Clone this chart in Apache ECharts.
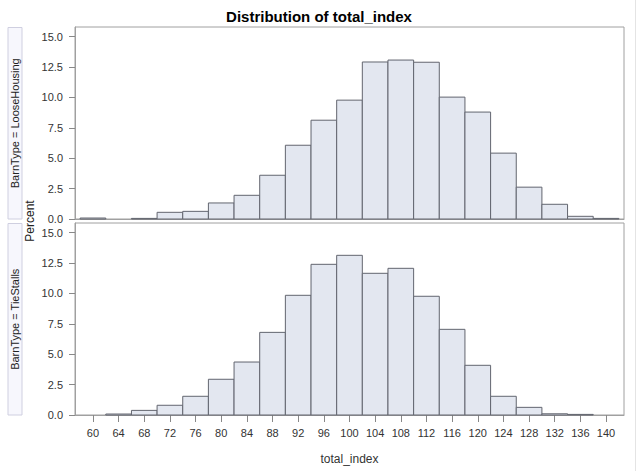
<!DOCTYPE html>
<html>
<head>
<meta charset="utf-8">
<script src="https://cdn.jsdelivr.net/npm/echarts@6/dist/echarts.min.js"></script>
<style>
html,body{margin:0;padding:0;background:#fff;}
#chart{width:638px;height:471px;}
</style>
</head>
<body>
<div id="chart"></div>
<script>
// Bin midpoints (total_index)
const bins = [60,64,68,72,76,80,84,88,92,96,100,104,108,112,116,120,124,128,132,136,140];
// Percent per bin, BarnType = LooseHousing
const looseHousing = [0.08,0,0.05,0.55,0.63,1.32,1.95,3.6,6.07,8.13,9.78,12.92,13.08,12.9,10.03,8.8,5.42,2.62,1.21,0.22,0.05];
// Percent per bin, BarnType = TieStalls
const tieStalls = [0,0.08,0.38,0.8,1.54,2.94,4.36,6.8,9.85,12.4,13.14,11.66,12.07,9.77,7.05,4.09,1.54,0.63,0.1,0.05,0];
// Tick labels
const xTicks = [60,64,68,72,76,80,84,88,92,96,100,104,108,112,116,120,124,128,132,136,140];
const yTicks = [0,2.5,5,7.5,10,12.5,15];
const panelLabels = ['BarnType = LooseHousing','BarnType = TieStalls'];
const binWidth = 4;

const FONT = '"Liberation Sans", Arial, sans-serif';
const chart = echarts.init(document.getElementById('chart'), null, {renderer:'svg'});

function histData(vals){
  return bins.map((b,i)=>[b, vals[i]]);
}
function renderBar(params, api){
  const x = api.value(0), v = api.value(1);
  if (!v) return null;
  const p0 = api.coord([x - binWidth/2, v]);
  const p1 = api.coord([x + binWidth/2, 0]);
  return {
    type:'rect',
    shape:{x:p0[0], y:p0[1], width:p1[0]-p0[0], height:p1[1]-p0[1]},
    style:{fill:'#e3e7f0', stroke:'#62656f', lineWidth:1}
  };
}
const grids = [
  {left:75, top:27, width:549, height:192, show:true, borderColor:'#a0a0a0', borderWidth:1, backgroundColor:'#fff'},
  {left:75, top:223, width:549, height:192, show:true, borderColor:'#a0a0a0', borderWidth:1, backgroundColor:'#fff'}
];
function xAxis(idx, showLabels){
  return {
    type:'value', gridIndex:idx, min:57.2, max:142.8,
    axisLine:{show:true, lineStyle:{color:'#a0a0a0'}},
    axisTick:{show:showLabels, length:7, lineStyle:{color:'#888'}, customValues:xTicks},
    axisLabel:{show:showLabels, customValues:xTicks, color:'#333', fontSize:11, fontFamily:FONT, margin:12},
    splitLine:{show:false},
    name: showLabels ? 'total_index' : '',
    nameLocation:'middle', nameGap:38,
    nameTextStyle:{color:'#333', fontSize:12, fontFamily:FONT}
  };
}
function yAxis(idx){
  return {
    type:'value', gridIndex:idx, min:0, max:15.8,
    axisLine:{show:true, lineStyle:{color:'#a0a0a0'}},
    axisTick:{show:true, length:6, lineStyle:{color:'#888'}, customValues:yTicks},
    axisLabel:{customValues:yTicks, color:'#333', fontSize:11, fontFamily:FONT, margin:12,
      formatter:(v)=>Number(v).toFixed(1)},
    splitLine:{show:false}
  };
}
function strip(top, height, label){
  return [
    {type:'rect', shape:{x:8, y:top, width:14, height:height},
     style:{fill:'#f7f7fd', stroke:'#cfcfe0', lineWidth:1}, silent:true},
    {type:'text', x:15, y:top+height/2, rotation:Math.PI/2,
     style:{text:label, fill:'#222', font:'11px '+FONT, align:'center', verticalAlign:'middle'}, silent:true}
  ];
}
chart.setOption({
  animation:false,
  title:{text:'Distribution of total_index', left:'center', top:4,
    textStyle:{fontSize:15, fontWeight:'bold', color:'#000', fontFamily:FONT}},
  grid:grids,
  xAxis:[xAxis(0,false), xAxis(1,true)],
  yAxis:[yAxis(0), yAxis(1)],
  series:[
    {type:'custom', xAxisIndex:0, yAxisIndex:0, data:histData(looseHousing), renderItem:renderBar, encode:{x:0,y:1}},
    {type:'custom', xAxisIndex:1, yAxisIndex:1, data:histData(tieStalls), renderItem:renderBar, encode:{x:0,y:1}}
  ],
  graphic:[
    ...strip(27.5, 191.5, panelLabels[0]),
    ...strip(223.5, 191.5, panelLabels[1]),
    {type:'text', x:30, y:221, rotation:Math.PI/2,
     style:{text:'Percent', fill:'#222', font:'12px '+FONT, align:'center', verticalAlign:'middle'}, silent:true},
    {type:'line', shape:{x1:635.5, y1:0, x2:635.5, y2:471}, style:{stroke:'#e4e4e4', lineWidth:1}, silent:true}
  ]
});
</script>
</body>
</html>
